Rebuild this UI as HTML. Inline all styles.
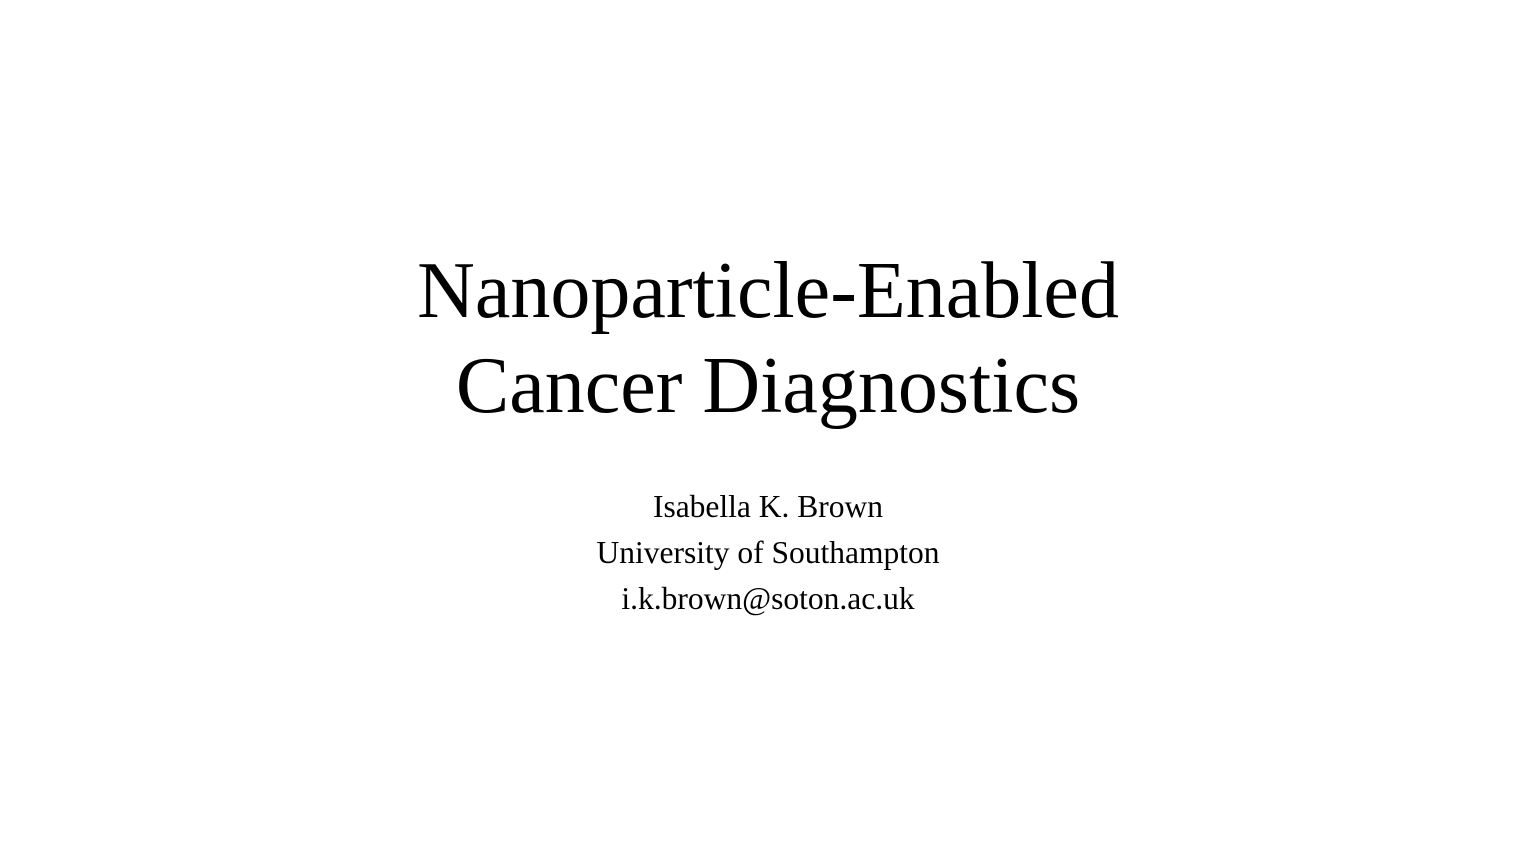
<!DOCTYPE html>
<html>
<head>
<meta charset="utf-8">
<style>
  html, body { margin: 0; padding: 0; }
  body { width: 1536px; height: 864px; background: #ffffff; position: relative; overflow: hidden;
         font-family: "Liberation Serif", "Times New Roman", serif; color: #000; }
  .line { position: absolute; left: 0; width: 1536px; text-align: center; white-space: nowrap; }
  .title { font-size: 80px; line-height: 80px; }
  .sub { font-size: 31.5px; line-height: 31.5px; }
</style>
</head>
<body>
  <div>
    <div class="line title" style="top:251px">Nanoparticle-Enabled</div>
    <div class="line title" style="top:346px">Cancer Diagnostics</div>
  </div>
  <div>
    <div class="line sub" style="top:491px">Isabella K. Brown</div>
    <div class="line sub" style="top:537px">University of Southampton</div>
    <div class="line sub" style="top:583px">i.k.brown@soton.ac.uk</div>
  </div>
</body>
</html>
